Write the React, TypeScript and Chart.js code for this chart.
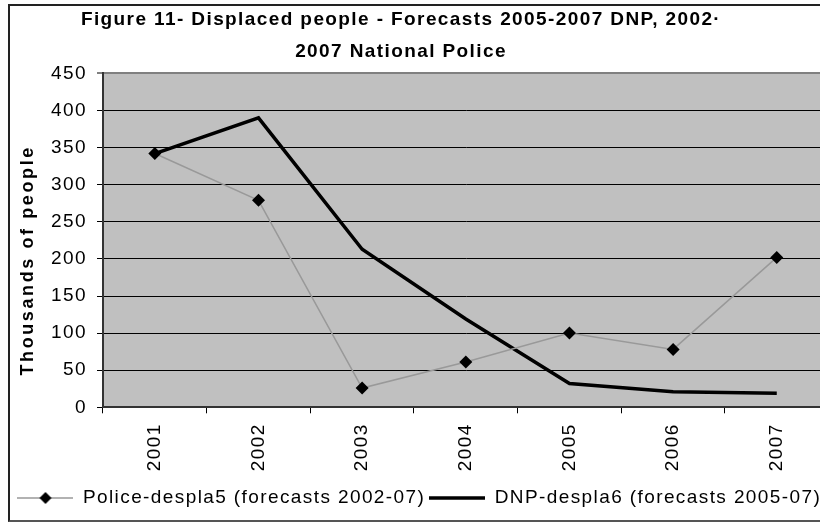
import React, { useEffect, useRef } from 'react';
import { Chart, registerables } from 'chart.js';

Chart.register(...registerables);

// ---- data ----
const years = ['2001', '2002', '2003', '2004', '2005', '2006', '2007'];
const policeValues = [342, 279, 26, 61, 100, 78, 202];
const dnpValues = [342, 390, 213, 119, 32, 21, 19];
const seriesNames = ['Police-despla5 (forecasts 2002-07)', 'DNP-despla6 (forecasts 2005-07)'];
const titleLines = ['Figure 11- Displaced people - Forecasts 2005-2007 DNP, 2002\u00b7', '2007 National Police'];
const yAxisTitle = 'Thousands of people';
const yMin = 0;
const yMax = 450;
const yStep = 50;

const FONT = '"Liberation Sans", Arial, Helvetica, sans-serif';
const SPACING = '1.4px';

function makeLegendMarker(withDiamond: boolean, color: string, width: number) {
  const c = document.createElement('canvas');
  c.width = 56;
  c.height = 14;
  const g = c.getContext('2d')!;
  g.strokeStyle = color;
  g.lineWidth = width;
  g.beginPath();
  g.moveTo(0, 7);
  g.lineTo(56, 7);
  g.stroke();
  if (withDiamond) {
    g.fillStyle = '#000';
    g.beginPath();
    g.moveTo(28, 1);
    g.lineTo(34, 7);
    g.lineTo(28, 13);
    g.lineTo(22, 7);
    g.closePath();
    g.fill();
  }
  return c;
}

const spacingPlugin = {
  id: 'letterSpacing',
  beforeUpdate(chart: any) {
    chart.ctx.letterSpacing = SPACING;
  },
  beforeDraw(chart: any) {
    chart.ctx.letterSpacing = SPACING;
  },
};

const plotBgPlugin = {
  id: 'plotBg',
  beforeDraw(chart: any) {
    const { ctx, chartArea } = chart;
    ctx.save();
    ctx.fillStyle = '#c0c0c0';
    ctx.fillRect(chartArea.left, chartArea.top, chartArea.right - chartArea.left, chartArea.bottom - chartArea.top);
    ctx.restore();
  },
};

const textPlugin = {
  id: 'figureText',
  afterDraw(chart: any) {
    const { ctx, chartArea } = chart;
    ctx.save();
    ctx.fillStyle = '#000';
    ctx.textAlign = 'center';
    ctx.textBaseline = 'middle';
    ctx.font = `bold 19px ${FONT}`;
    ctx.letterSpacing = '1.4px';
    titleLines.forEach((t, i) => ctx.fillText(t, 391, 14 + i * 32));
    ctx.translate(18, (chartArea.top + chartArea.bottom) / 2 + 20);
    ctx.rotate(-Math.PI / 2);
    ctx.font = `bold 18px ${FONT}`;
    ctx.letterSpacing = '2.6px';
    ctx.fillText(yAxisTitle, 0, 0);
    ctx.restore();
  },
};

export default function App() {
  const canvasRef = useRef<HTMLCanvasElement | null>(null);

  useEffect(() => {
    const canvas = canvasRef.current;
    if (!canvas) return;
    const markers = [makeLegendMarker(true, '#999999', 1.5), makeLegendMarker(false, '#000000', 3.5)];

    const chart = new Chart(canvas, {
      type: 'line',
      data: {
        labels: years,
        datasets: [
          {
            label: seriesNames[0],
            data: policeValues,
            borderColor: '#999999',
            borderWidth: 1.5,
            pointStyle: 'rectRot',
            pointRadius: 6.5,
            pointBackgroundColor: '#000',
            pointBorderColor: '#000',
            pointBorderWidth: 0,
            tension: 0,
            fill: false,
          },
          {
            label: seriesNames[1],
            data: dnpValues,
            borderColor: '#000',
            borderWidth: 3.5,
            pointRadius: 0,
            tension: 0,
            fill: false,
          },
        ],
      },
      options: {
        animation: false,
        responsive: false,
        devicePixelRatio: 1,
        layout: { padding: { top: 67.4, left: 0, right: 17.4, bottom: 2.5 } },
        plugins: {
          title: { display: false },
          tooltip: { enabled: false },
          legend: {
            position: 'bottom',
            labels: {
              usePointStyle: true,
              pointStyleWidth: 56,
              boxHeight: 14,
              padding: 4,
              color: '#000',
              font: { family: FONT, size: 19 },
              generateLabels: (c: any) => {
                const items = (Chart.defaults.plugins.legend.labels as any).generateLabels(c);
                items.forEach((it: any, i: number) => {
                  it.pointStyle = markers[i];
                });
                return items;
              },
            },
          },
        },
        scales: {
          x: {
            offset: true,
            afterFit: (s: any) => {
              s.height = 77.2;
            },
            grid: {
              offset: true,
              drawOnChartArea: false,
              tickLength: 6,
              color: '#000',
            },
            border: { display: true, color: '#333', width: 2 },
            ticks: {
              minRotation: 90,
              maxRotation: 90,
              padding: 10,
              color: '#000',
              font: { family: FONT, size: 19 },
            },
          },
          y: {
            min: yMin,
            max: yMax,
            afterFit: (s: any) => {
              s.width = 93;
            },
            grid: {
              color: (c: any) => (c.tick && c.tick.value === yMax ? '#808080' : '#000'),
              lineWidth: (c: any) => (c.tick && c.tick.value === yMax ? 2 : 1),
              tickColor: '#000',
              tickWidth: 1,
              tickLength: 6,
            },
            border: { display: true, color: '#333', width: 2 },
            ticks: {
              stepSize: yStep,
              padding: 10,
              color: '#000',
              font: { family: FONT, size: 19 },
            },
          },
        },
      },
      plugins: [spacingPlugin, plotBgPlugin, textPlugin],
    } as any);

    return () => chart.destroy();
  }, []);

  return (
    <div style={{ position: 'absolute', left: 8, top: 4, width: 812, height: 518, overflow: 'hidden' }}>
      <div
        style={{
          width: 840,
          height: 518,
          boxSizing: 'border-box',
          borderTop: '2px solid #222',
          borderLeft: '2px solid #222',
          borderBottom: '2px solid #555',
          borderRight: '2px solid #222',
          background: '#fff',
        }}
      >
        <canvas ref={canvasRef} width={836} height={514} style={{ display: 'block' }} />
      </div>
    </div>
  );
}
